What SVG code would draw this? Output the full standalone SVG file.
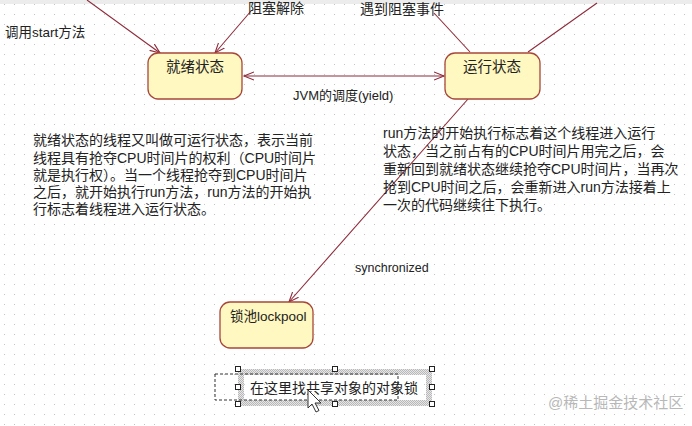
<svg xmlns="http://www.w3.org/2000/svg" width="692" height="426" viewBox="0 0 692 426">
<defs>
<style>
.t{font-family:"Liberation Sans","Noto Sans CJK SC",sans-serif;fill:#222;}
.node{fill:#fff8c0;stroke:#a8463a;stroke-width:1.3;}
.edge{stroke:#8e2a3a;stroke-width:1.1;fill:none;}
.h{fill:#fff;stroke:#222;stroke-width:1;}
</style>
<pattern id="grid" width="10" height="10" patternUnits="userSpaceOnUse">
<rect x="4" y="4" width="1" height="1" fill="#c4c4c4"/>
</pattern>
<pattern id="stip" width="2" height="2" patternUnits="userSpaceOnUse">
<rect width="2" height="2" fill="#e6e6e6"/>
<rect width="1" height="1" fill="#b8b8b8"/>
<rect x="1" y="1" width="1" height="1" fill="#b8b8b8"/>
</pattern>
<marker id="arr" markerWidth="12" markerHeight="10" refX="10" refY="5" orient="auto-start-reverse" markerUnits="userSpaceOnUse">
<path d="M0,1 L10,5 L0,9" fill="none" stroke="#8e2a3a" stroke-width="1.1"/>
</marker>
</defs>
<rect width="692" height="426" fill="#fff"/>
<rect width="692" height="426" fill="url(#grid)"/>
<rect width="692" height="4" fill="#ececec"/>

<g id="connectors">
<line class="edge" x1="87" y1="0" x2="160" y2="53" marker-end="url(#arr)"/>
<line class="edge" x1="251" y1="11" x2="215" y2="53" marker-end="url(#arr)"/>
<line class="edge" x1="244" y1="76" x2="444" y2="76" marker-start="url(#arr)" marker-end="url(#arr)"/>
<line class="edge" x1="434" y1="13" x2="470" y2="52"/>
<line class="edge" x1="528" y1="52" x2="597" y2="3"/>
<line class="edge" x1="468" y1="99" x2="289" y2="302" marker-end="url(#arr)"/>
</g>

<g id="labels">
<text class="t" x="5" y="37" font-size="13.5">调用start方法</text>
<text class="t" x="248" y="13" font-size="14">阻塞解除</text>
<text class="t" x="360" y="14" font-size="14">遇到阻塞事件</text>
<text class="t" x="293" y="100" font-size="13">JVM的调度(yield)</text>
<text class="t" x="355" y="272" font-size="12.5">synchronized</text>
</g>

<g id="node-ready">
<rect class="node" x="148" y="53" width="94" height="46" rx="10"/>
<text class="t" x="195" y="72" font-size="14.5" text-anchor="middle">就绪状态</text>
</g>
<g id="node-running">
<rect class="node" x="445" y="53" width="95" height="46" rx="10"/>
<text class="t" x="492" y="72" font-size="14.5" text-anchor="middle">运行状态</text>
</g>
<g id="node-lockpool">
<rect class="node" x="220" y="302" width="93" height="46" rx="10"/>
<text class="t" x="230" y="321" font-size="13.5">锁池lockpool</text>
</g>

<g id="note-ready" class="t" font-size="14">
<text x="33" y="145">就绪状态的线程又叫做可运行状态，表示当前</text>
<text x="33" y="162.5">线程具有抢夺CPU时间片的权利（CPU时间片</text>
<text x="33" y="180">就是执行权）。当一个线程抢夺到CPU时间片</text>
<text x="33" y="197">之后，就开始执行run方法，run方法的开始执</text>
<text x="33" y="214">行标志着线程进入运行状态。</text>
</g>
<g id="note-running" class="t" font-size="14">
<text x="383" y="138">run方法的开始执行标志着这个线程进入运行</text>
<text x="383" y="156">状态，当之前占有的CPU时间片用完之后，会</text>
<text x="383" y="174">重新回到就绪状态继续抢夺CPU时间片，当再次</text>
<text x="383" y="192">抢到CPU时间之后，会重新进入run方法接着上</text>
<text x="383" y="210">一次的代码继续往下执行。</text>
</g>

<g id="note-lock">
<rect x="241" y="372" width="188" height="31" fill="none" stroke="url(#stip)" stroke-width="6"/>
<rect x="215" y="374" width="183" height="26" fill="none" stroke="#333" stroke-width="1" stroke-dasharray="3,2"/>
<text class="t" x="250" y="393" font-size="14">在这里找共享对象的对象锁</text>
<rect class="h" x="235.5" y="366.5" width="5" height="5"/>
<rect class="h" x="332.5" y="366.5" width="5" height="5"/>
<rect class="h" x="429.5" y="366.5" width="5" height="5"/>
<rect class="h" x="235.5" y="384.5" width="5" height="5"/>
<rect class="h" x="429.5" y="384.5" width="5" height="5"/>
<rect class="h" x="235.5" y="401.5" width="5" height="5"/>
<rect class="h" x="332.5" y="401.5" width="5" height="5"/>
<rect class="h" x="429.5" y="401.5" width="5" height="5"/>
<path d="M308,390 L308,408 L312,404 L316,412 L319,410.5 L315,403 L321,403 Z" fill="#fff" stroke="#333" stroke-width="1"/>
</g>

<text x="548" y="408" font-size="15" font-family="Liberation Sans,Noto Sans CJK SC,sans-serif" fill="#b8b8b8">@稀土掘金技术社区</text>
</svg>
